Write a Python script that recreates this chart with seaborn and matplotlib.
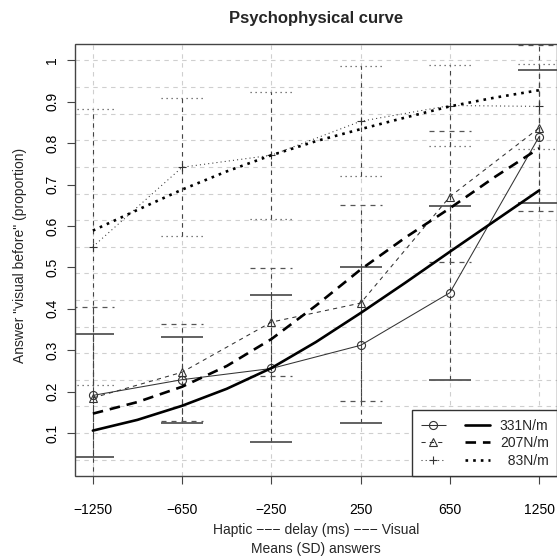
import numpy as np
import matplotlib
matplotlib.use("Agg")
import matplotlib.pyplot as plt
from matplotlib.patches import Rectangle
from matplotlib.lines import Line2D
from matplotlib.legend_handler import HandlerTuple
import seaborn as sns

# ---------------- data ----------------
delay_labels = ["\u22121250", "\u2212650", "\u2212250", "250", "650", "1250"]
positions = [1, 2, 3, 4, 5, 6]

mean_331 = [0.191, 0.229, 0.256, 0.312, 0.439, 0.816]
sd_331 = [0.148, 0.104, 0.177, 0.188, 0.210, 0.160]
mean_207 = [0.185, 0.247, 0.368, 0.414, 0.671, 0.837]
sd_207 = [0.219, 0.117, 0.131, 0.236, 0.159, 0.200]
mean_83 = [0.550, 0.742, 0.771, 0.853, 0.891, 0.889]
sd_83 = [0.333, 0.166, 0.153, 0.133, 0.097, 0.102]

fit_x = [1, 1.5, 2, 2.5, 3, 3.5, 4, 4.5, 5, 5.5, 6]
fit_331 = [0.106, 0.132, 0.166, 0.207, 0.257, 0.320, 0.390, 0.463, 0.538, 0.612, 0.686]
fit_207 = [0.147, 0.175, 0.212, 0.262, 0.327, 0.408, 0.495, 0.572, 0.643, 0.718, 0.788]
fit_83 = [0.589, 0.639, 0.688, 0.732, 0.771, 0.805, 0.834, 0.862, 0.889, 0.910, 0.928]

series_names = ["331N/m", "207N/m", "83N/m"]
y_ticks = [0.1, 0.2, 0.3, 0.4, 0.5, 0.6, 0.7, 0.8, 0.9, 1.0]
y_tick_labels = ["0.1", "0.2", "0.3", "0.4", "0.5", "0.6", "0.7", "0.8", "0.9", "1"]

# ---------------- style ----------------
sns.set_theme(style="white")
plt.rcParams["font.family"] = ["Liberation Sans", "DejaVu Sans"]

W, H = 557, 559
fig = plt.figure(figsize=(W / 100, H / 100), dpi=100)
L, R, T, B = 75, 557, 44, 476
ax = fig.add_axes([L / W, 1 - B / H, (R - L) / W, (B - T) / H])
ax.set_xlim(0.8, 6.2)
ax.set_ylim(-0.0036, 1.0396)

# grid
grid_c = "#cfcfcf"
for k in range(-1, 15):
    ax.axhline(0.1 + k * 0.9 / 14, color=grid_c, lw=0.8, ls=(0, (4, 4)), zorder=0)
for p in positions:
    ax.axvline(p, color=grid_c, lw=0.8, ls=(0, (4, 4)), zorder=0)

styles = {
    "331N/m": dict(mean=mean_331, sd=sd_331, fit=fit_331, marker="o",
                   thin=(0, ()), thick="-", cap="-"),
    "207N/m": dict(mean=mean_207, sd=sd_207, fit=fit_207, marker="^",
                   thin=(0, (4, 4)), thick=(0, (4, 2.6)), cap=(0, (4, 4))),
    "83N/m": dict(mean=mean_83, sd=sd_83, fit=fit_83, marker="+",
                  thin=(0, (1, 3)), thick=(0, (1, 1.9)), cap=(0, (1, 3))),
}

err_c = "#444444"
cap_hw = 0.235
msize = 5.8
for name in series_names:
    s = styles[name]
    m = np.array(s["mean"])
    sd = np.array(s["sd"])
    x = np.array(positions)
    ax.vlines(x, m - sd, m + sd, colors=err_c, lw=0.8, linestyles=(0, (4, 4)), zorder=2)
    cap_lw = 1.3 if name == "331N/m" else 0.9
    ax.hlines(m + sd, x - cap_hw, x + cap_hw, colors="#555555", lw=cap_lw,
              linestyles=s["cap"], zorder=2)
    ax.hlines(m - sd, x - cap_hw, x + cap_hw, colors="#555555", lw=cap_lw,
              linestyles=s["cap"], zorder=2)
    # thin lines with markers (means)
    sns.lineplot(x=positions, y=s["mean"], ax=ax, color="#333333", lw=0.75,
                 linestyle=s["thin"], marker=s["marker"], markersize=msize,
                 markerfacecolor="none", markeredgecolor="#333333",
                 markeredgewidth=0.8, zorder=3)
    # thick fitted curve
    sns.lineplot(x=fit_x, y=s["fit"], ax=ax, color="black", lw=1.9,
                 linestyle=s["thick"], zorder=4)

# axes, ticks
for sp in ax.spines.values():
    sp.set_visible(False)
ax.add_patch(Rectangle((0, 0), 1, 1, transform=ax.transAxes, fill=False,
                       edgecolor="#444444", lw=1.0, zorder=10, clip_on=False))
ax.set_xticks(positions)
ax.set_xticklabels(delay_labels, fontsize=10)
ax.set_yticks(y_ticks)
ax.set_yticklabels(y_tick_labels, fontsize=10, rotation=90, va="center")
ax.tick_params(axis="both", direction="out", length=5.5, width=0.8,
               color="#444444", labelcolor="black", bottom=True, left=True)
ax.tick_params(axis="x", pad=14)
ax.tick_params(axis="y", pad=6)
ax.set_xlabel("")
ax.set_ylabel("")

# legend
handles = []
for name in series_names:
    s = styles[name]
    h1 = Line2D([], [], color="#333333", lw=0.75, linestyle=s["thin"],
                marker=s["marker"], markersize=msize, markerfacecolor="none",
                markeredgecolor="#333333", markeredgewidth=0.8)
    h2 = Line2D([], [], color="black", lw=1.9, linestyle=s["thick"])
    handles.append((h1, h2))
labels = ["331N/m", "207N/m", "\u200783N/m"]
leg = ax.legend(handles, labels, loc="lower right", borderaxespad=0,
                handler_map={tuple: HandlerTuple(ndivide=None, pad=1.4)},
                handlelength=5.0, fontsize=10, frameon=True, fancybox=False,
                framealpha=1, edgecolor="#333333", borderpad=0.6,
                labelspacing=0.25, handletextpad=0.7)
leg.get_frame().set_linewidth(1.0)
leg.set_zorder(20)

# texts
fig.text(316 / W, 1 - 18 / H, "Psychophysical curve", ha="center", va="center",
         fontsize=12, fontweight="bold")
fig.text(316 / W, 1 - 530 / H, "Haptic \u2212\u2212\u2212 delay (ms) \u2212\u2212\u2212 Visual",
         ha="center", va="center", fontsize=10)
fig.text(316 / W, 1 - 549 / H, "Means (SD) answers", ha="center", va="center",
         fontsize=10)
fig.text(20 / W, 1 - 255 / H, "Answer \"visual before\" (proportion)", ha="center",
         va="center", rotation=90, fontsize=10)

fig.savefig("out.png", dpi=100)
